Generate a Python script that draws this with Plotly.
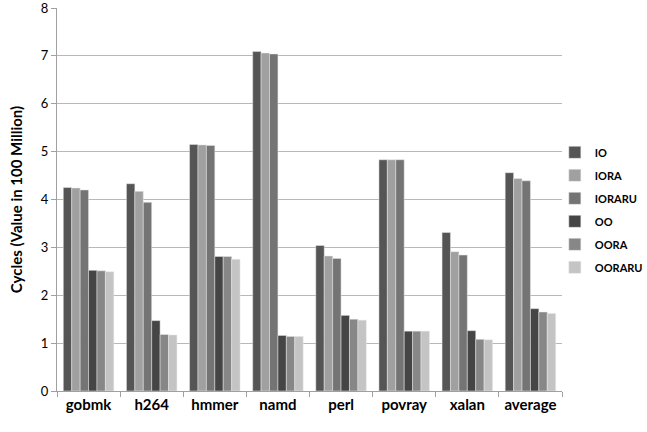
import plotly.graph_objects as go

categories = ["gobmk", "h264", "hmmer", "namd", "perl", "povray", "xalan", "average"]
IO = [4.25, 4.33, 5.15, 7.09, 3.04, 4.83, 3.31, 4.56]
IORA = [4.24, 4.17, 5.14, 7.06, 2.82, 4.83, 2.91, 4.44]
IORARU = [4.20, 3.94, 5.13, 7.04, 2.77, 4.83, 2.84, 4.39]
OO = [2.52, 1.47, 2.81, 1.16, 1.58, 1.25, 1.26, 1.72]
OORA = [2.51, 1.18, 2.81, 1.14, 1.50, 1.25, 1.08, 1.65]
OORARU = [2.49, 1.17, 2.75, 1.14, 1.48, 1.25, 1.07, 1.62]

series = [
    ("IO", IO, "#555555"),
    ("IORA", IORA, "#a0a0a0"),
    ("IORARU", IORARU, "#747474"),
    ("OO", OO, "#454545"),
    ("OORA", OORA, "#878787"),
    ("OORARU", OORARU, "#c4c4c4"),
]

font_family = "Lato, 'Open Sans', sans-serif"

fig = go.Figure()
for name, vals, color in series:
    fig.add_trace(go.Bar(
        x=categories, y=vals, name=name, legendgroup=name,
        marker=dict(color=color, line=dict(width=0.5, color="#e8e8e8")),
    ))

fig.update_layout(
    width=647, height=432,
    margin=dict(l=57, r=5, t=8, b=41, autoexpand=False),
    paper_bgcolor="white", plot_bgcolor="white",
    barmode="group", bargap=0.2, bargroupgap=0,
    font=dict(family=font_family, color="#000000"),
    showlegend=True,
    legend=dict(
        x=0.851, y=0.473, xanchor="left", yanchor="middle",
        font=dict(size=11, family=font_family, weight="bold"),
        tracegroupgap=4, itemwidth=30,
        bgcolor="rgba(0,0,0,0)",
    ),
    xaxis=dict(
        domain=[0, 505 / 585],
        showline=True, linecolor="#a0a0a0", linewidth=1,
        ticks="outside", tickson="boundaries", ticklen=5, tickcolor="#a0a0a0",
        tickfont=dict(size=15, family=font_family, weight="bold"),
        showgrid=False,
    ),
    yaxis=dict(
        range=[0, 8], dtick=1,
        showline=True, linecolor="#a0a0a0", linewidth=1,
        ticks="outside", ticklen=5, tickcolor="#a0a0a0",
        tickfont=dict(size=13, family=font_family),
        ticklabeloverflow="allow",
        showgrid=True, gridcolor="#b8b8b8", gridwidth=1,
        zeroline=False,
        title=dict(text="Cycles (Value in 100 Million)",
                   font=dict(size=15, family=font_family, weight="bold"),
                   standoff=14),
    ),
)

fig.write_html(
    "out.html",
    config={"displayModeBar": False},
    post_script="document.body.style.margin='0';document.body.style.overflow='hidden';",
)
